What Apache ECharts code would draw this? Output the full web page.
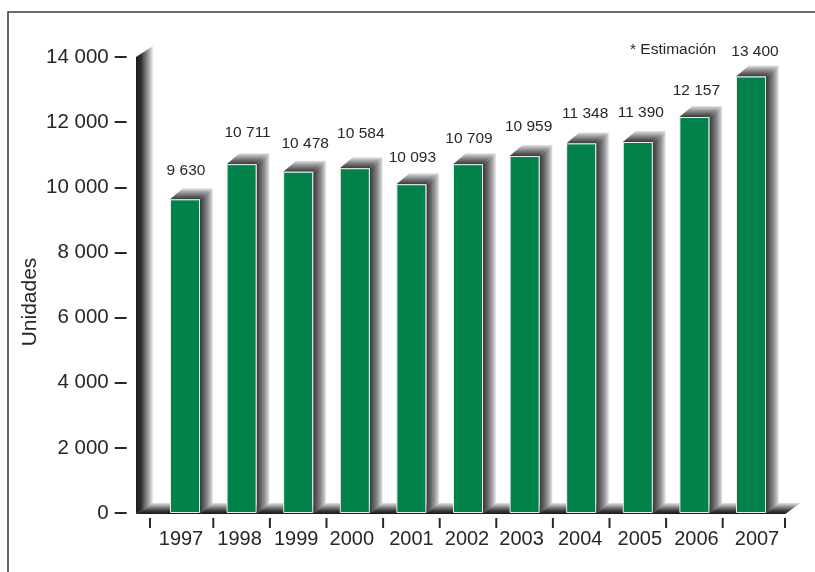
<!DOCTYPE html>
<html>
<head>
<meta charset="utf-8">
<style>html,body{margin:0;padding:0;background:#fff}#c{width:815px;height:572px}</style>
<script src="https://cdn.jsdelivr.net/npm/echarts@6/dist/echarts.min.js"></script>
</head>
<body>
<div id="c"></div>
<script>
const years = ['1997','1998','1999','2000','2001','2002','2003','2004','2005','2006','2007'];
const unidades = [9630,10711,10478,10584,10093,10709,10959,11348,11390,12157,13400];
const yTicks = {min:0,max:14000,interval:2000};

const FONT = '"Liberation Sans", Arial, sans-serif';
const INK = '#2a2627';
const DX = 13, DY = -11, BAR = 30;
const labelNudge = [[1,29],[6,31],[7,28],[6,35],[1,27],[1,25],[4,29],[4,30],[3,29],[2,26],[4,25]];
const yearNudge = [-4,-2,-2,-3,0,-1,-3,-1,2,2,6];

const fmt = v => String(v).replace(/\B(?=(\d{3})+$)/g,' ');
const lin = (x,y,x2,y2,stops)=>({type:'linear',x,y,x2,y2,global:false,
  colorStops:stops.map(s=>({offset:s[0],color:s[1]}))});
const sideFill = ()=>lin(0,0,1,0,[[0,'#383839'],[.3,'#606062'],[.6,'#8f8f92'],[.85,'#c4c4c6'],[1,'#efeff0']]);
const topFill = ()=>lin(0,1,0,0,[[0,'#39393a'],[.35,'#6b6b6d'],[.7,'#a8a8aa'],[1,'#e4e4e5']]);

const option = {
  animation:false,
  backgroundColor:'#fff',
  textStyle:{fontFamily:FONT,color:INK},
  grid:{left:156.7,top:57,width:622.6,height:456,containLabel:false},
  xAxis:{
    type:'category',
    data:years.map((y,i)=>{
      const d=yearNudge[i];
      return {value:y,textStyle:{padding:[0,d<0?-2*d:0,0,d>0?2*d:0]}};
    }),
    axisLine:{show:false},
    axisTick:{show:false},
    axisLabel:{interval:0,fontSize:20,color:INK,margin:16,fontFamily:FONT}
  },
  yAxis:{
    type:'value',
    min:yTicks.min,max:yTicks.max,interval:yTicks.interval,
    offset:30,
    name:'Unidades',
    nameLocation:'middle',
    nameGap:86,
    nameMoveOverlap:false,
    nameRotate:90,
    nameTextStyle:{fontSize:21,color:INK,fontFamily:FONT,padding:[0,34,0,0]},
    axisLine:{show:false},
    splitLine:{show:false},
    axisTick:{show:true,length:12,lineStyle:{color:INK,width:2}},
    axisLabel:{fontSize:20.5,color:INK,margin:18,fontFamily:FONT,formatter:fmt}
  },
  graphic:[
    {type:'polyline',silent:true,z:0,shape:{points:[[8,572],[8,12],[815,12]]},style:{stroke:'#3a3a3a',lineWidth:1.5,fill:null}},
    {type:'text',left:630,top:42,silent:true,style:{text:'* Estimación',font:'15.5px '+FONT,fill:INK}}
  ],
  series:[
    { // back wall and floor
      type:'custom',z:1,silent:true,
      coordinateSystem:'cartesian2d',
      data:[[0,yTicks.max]],
      encode:{x:0,y:1},
      renderItem(params,api){
        const cs=params.coordSys;
        const y0=api.coord([0,0])[1], yTop=api.coord([0,api.value(1)])[1];
        const wx=cs.x-20.7, fr=cs.x+cs.width+6;
        return {type:'group',children:[
          {type:'polygon',shape:{points:[[wx,y0+1],[wx+16,y0+1+DY],[fr+15,y0+1+DY],[fr,y0+1]]},
           style:{fill:lin(0,1,0,0,[[0,'#161617'],[.3,'#3d3d3e'],[.65,'#8e8e90'],[1,'#e3e3e4']])}},
          {type:'polygon',shape:{points:[[wx,yTop],[wx+17,yTop+DY],[wx+17,y0+1+DY],[wx,y0+1]]},
           style:{fill:lin(0,0,1,0,[[0,'#1c1a1b'],[.3,'#2f2d2e'],[.5,'#666668'],[.75,'#a5a5a7'],[1,'#eeeeef']])}}
        ]};
      }
    },
    { // extruded top and side of each bar
      type:'custom',z:2,silent:true,
      coordinateSystem:'cartesian2d',
      data:unidades.map((v,i)=>[i,v]),
      encode:{x:0,y:1},
      renderItem(params,api){
        const p=api.coord([api.value(0),api.value(1)]);
        const y0=api.coord([0,0])[1]+1;
        const l=p[0]-BAR/2, r=p[0]+BAR/2, t=p[1];
        return {type:'group',children:[
          {type:'polygon',shape:{points:[[r,t],[r+DX,t+DY],[r+DX,y0+DY],[r,y0]]},style:{fill:sideFill()}},
          {type:'polygon',shape:{points:[[l,t],[l+DX,t+DY],[r+DX,t+DY],[r,t]]},style:{fill:topFill()}}
        ]};
      }
    },
    { // x axis ticks on the category boundaries
      type:'custom',z:2,silent:true,
      coordinateSystem:'cartesian2d',
      data:years.map((y,i)=>[i,0]),
      encode:{x:0,y:1},
      renderItem(params,api){
        const i=api.value(0), n=years.length;
        const c=api.coord([i,0]), half=api.size([1,0])[0]/2;
        const tick=x=>({type:'line',shape:{x1:x,y1:c[1]+5,x2:x,y2:c[1]+15},style:{stroke:INK,lineWidth:2}});
        const kids=[tick(c[0]-half+(i===0?-6.7:0))];
        if(i===n-1) kids.push(tick(c[0]+half+5.7));
        return {type:'group',children:kids};
      }
    },
    {
      type:'bar',z:3,
      barWidth:BAR,
      data:unidades.map((v,i)=>({
        value:v,
        label:{offset:[labelNudge[i][0],-(labelNudge[i][1]-13)]}
      })),
      itemStyle:{color:'#00824a',borderColor:'#e6eee8',borderWidth:1},
      label:{show:true,position:'top',distance:5,fontSize:15.5,color:INK,fontFamily:FONT,formatter:p=>fmt(p.value)}
    }
  ]
};
const chart=echarts.init(document.getElementById('c'),null,{renderer:'canvas'});
chart.setOption(option);
</script>
</body>
</html>
